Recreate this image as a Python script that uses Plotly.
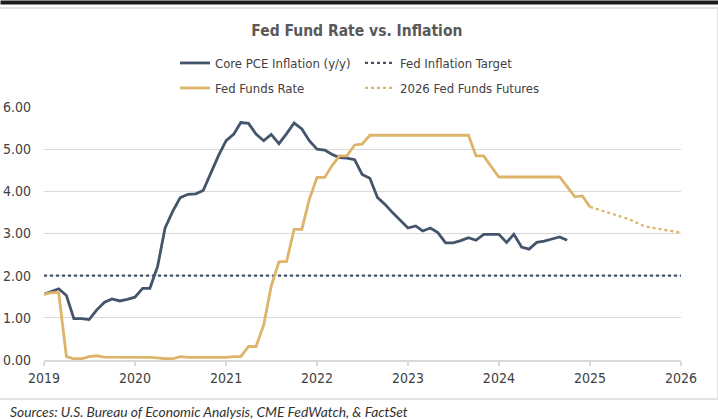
import pandas as pd
import plotly.graph_objects as go

# Monthly values
core_pce = [
    1.56, 1.63, 1.69, 1.53, 0.98, 0.98, 0.96, 1.19, 1.37, 1.45, 1.40, 1.44,  # 2019
    1.49, 1.70, 1.70, 2.22, 3.13, 3.53, 3.85, 3.93, 3.94, 4.02, 4.44, 4.84,  # 2020
    5.20, 5.36, 5.63, 5.61, 5.36, 5.20, 5.35, 5.13, 5.37, 5.62, 5.48, 5.20,  # 2021
    5.00, 4.98, 4.88, 4.80, 4.79, 4.75, 4.40, 4.31, 3.85, 3.69, 3.49, 3.31,  # 2022
    3.13, 3.18, 3.06, 3.13, 3.02, 2.78, 2.78, 2.83, 2.90, 2.84, 2.98, 2.98,  # 2023
    2.98, 2.79, 2.98, 2.68, 2.63, 2.79, 2.82, 2.87, 2.92, 2.84,              # 2024
]
fed_funds = [
    1.56, 1.60, 1.60, 0.08, 0.03, 0.03, 0.08, 0.10, 0.07, 0.07, 0.07, 0.07,  # 2019
    0.07, 0.06, 0.06, 0.05, 0.03, 0.03, 0.08, 0.06, 0.06, 0.06, 0.06, 0.06,  # 2020
    0.06, 0.08, 0.08, 0.32, 0.32, 0.83, 1.75, 2.33, 2.34, 3.10, 3.10, 3.81,  # 2021
    4.33, 4.33, 4.60, 4.84, 4.84, 5.10, 5.12, 5.33, 5.33, 5.33, 5.33, 5.33,  # 2022
    5.33, 5.33, 5.33, 5.33, 5.33, 5.33, 5.33, 5.33, 5.33, 4.84, 4.84, 4.59,  # 2023
    4.34, 4.34, 4.34, 4.34, 4.34, 4.34, 4.34, 4.34, 4.34, 4.11, 3.87, 3.89,  # 2024
    3.63,                                                                    # 2025
]
futures = [3.63, 3.57, 3.51, 3.45, 3.40, 3.35, 3.27, 3.19, 3.14, 3.11, 3.08, 3.05, 3.02]
target_dates = ["2019-01-01", "2026-01-01"]
target = [2.0, 2.0]
years = list(range(2019, 2027))

pce_dates = pd.date_range("2019-01-01", periods=len(core_pce), freq="MS")
ff_dates = pd.date_range("2019-01-01", periods=len(fed_funds), freq="MS")
fut_dates = pd.date_range("2025-01-01", periods=len(futures), freq="MS")

NAVY = "#44546a"
GOLD = "#dcb46a"
GRID = "#d9d9d9"
NARROW = "Liberation Sans Narrow, Arial Narrow, DejaVu Sans Condensed, sans-serif"

# plot area in pixels
W, H = 718, 419
L, R, T, B = 44, 37, 107, 59
PW, PH = W - L - R, H - T - B


def px(x):
    return (x - L) / PW


def py(y):
    return (H - B - y) / PH


fig = go.Figure()

fig.add_trace(go.Scatter(
    x=target_dates, y=target, mode="lines", name="Fed Inflation Target",
    line=dict(color=NAVY, width=2.2, dash="dot"),
    legend="legend", legendrank=2,
))
fig.add_trace(go.Scatter(
    x=pce_dates, y=core_pce, mode="lines", name="Core PCE Inflation (y/y)",
    line=dict(color=NAVY, width=2.8),
    legend="legend", legendrank=1,
))
fig.add_trace(go.Scatter(
    x=ff_dates, y=fed_funds, mode="lines", name="Fed Funds Rate",
    line=dict(color=GOLD, width=2.8),
    legend="legend2", legendrank=1,
))
fig.add_trace(go.Scatter(
    x=fut_dates, y=futures, mode="lines", name="2026 Fed Funds Futures",
    line=dict(color=GOLD, width=2.2, dash="dot"),
    legend="legend2", legendrank=2,
))

legend_style = dict(
    orientation="h", xanchor="left", yanchor="middle", x=px(175),
    font=dict(family=NARROW, size=13, color="#404040"),
    itemwidth=30, entrywidth=140, bgcolor="rgba(0,0,0,0)",
)

fig.update_layout(
    width=W, height=H,
    margin=dict(l=L, r=R, t=T, b=B),
    paper_bgcolor="white", plot_bgcolor="white",
    title=dict(
        text="<b>Fed Fund Rate vs. Inflation</b>",
        x=0.497, xanchor="center", xref="container",
        y=1 - 31 / H, yanchor="middle",
        font=dict(family=NARROW, size=15.5, color="#595959"),
    ),
    legend=dict(legend_style, y=py(63)),
    legend2=dict(legend_style, y=py(88)),
    xaxis=dict(
        type="date", range=["2019-01-01", "2026-01-01"], automargin=False,
        tickvals=[f"{y}-01-01" for y in years], ticktext=[str(y) for y in years],
        ticks="outside", ticklen=4, tickcolor=GRID, tickwidth=1.5,
        showline=True, linecolor=GRID, linewidth=1.5, showgrid=False, zeroline=False,
        tickfont=dict(family=NARROW, size=14, color="#404040"),
    ),
    yaxis=dict(
        range=[0, 6], dtick=1, tickformat=".2f", automargin=False,
        showgrid=True, gridcolor=GRID, gridwidth=1.2, zeroline=False,
        ticks="", ticklabelstandoff=12,
        tickfont=dict(family=NARROW, size=14, color="#404040"),
    ),
    showlegend=True,
    annotations=[
        # dark strip along the very top
        dict(text=" ", xref="paper", yref="paper", x=px(0), y=py(0),
             xanchor="left", yanchor="top", showarrow=False,
             width=W, height=3, borderpad=0, bgcolor="#1c1c1c",
             font=dict(size=1)),
        # light panel frame
        dict(text=" ", xref="paper", yref="paper", x=px(-3), y=py(7),
             xanchor="left", yanchor="top", showarrow=False,
             width=718, height=389, borderpad=0, borderwidth=2,
             bordercolor="#e3e3e3", bgcolor="rgba(0,0,0,0)",
             font=dict(size=1)),
        dict(text="<i>Sources: U.S. Bureau of Economic Analysis, CME FedWatch, & FactSet</i>",
             xref="paper", yref="paper", x=px(8), y=py(411),
             xanchor="left", yanchor="middle", showarrow=False,
             font=dict(family="Lato, Open Sans, sans-serif", size=13.8, color="#333333")),
    ],
)

# the page's default 8px body margin would shift the whole figure
fig.write_html("out.html", config={"displayModeBar": False},
               post_script="document.body.style.margin = '0';")
